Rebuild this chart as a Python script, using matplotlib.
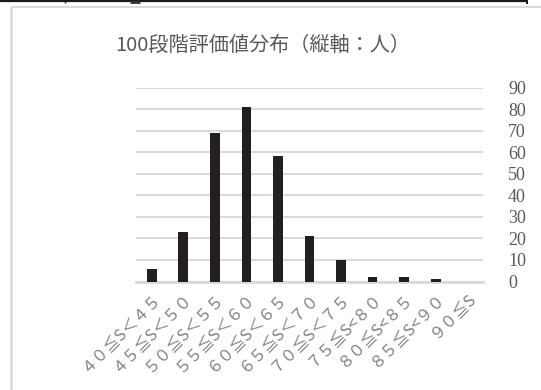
import matplotlib.pyplot as plt
from matplotlib.lines import Line2D
import numpy as np

# 評価値の区間と人数
ranges = ['４０≦S＜４５', '４５≦S＜５０', '５０≦S＜５５', '５５≦S＜６０',
          '６０≦S＜６５', '６５≦S＜７０', '７０≦S＜７５', '７５≦S<８０',
          '８０≦S<８５', '８５≦S<９０', '９０≦S']
counts = [6, 23, 69, 81, 58, 21, 10, 2, 2, 1, 0]
yticks = list(range(0, 100, 10))

W, H = 541, 390
fig = plt.figure(figsize=(W / 100, H / 100), dpi=100)
fig.patch.set_facecolor('white')

# outer frame pieces
def fline(xs, ys, color, lw):
    fig.add_artist(Line2D([x / W for x in xs], [1 - y / H for y in ys],
                          color=color, lw=lw, solid_capstyle='butt'))

fline([0, 527], [0.8, 0.8], '#1a1a1a', 1.6)
fline([527, 527], [0, 3.5], '#1a1a1a', 1.4)
fline([65, 65], [0, 2.5], '#1a1a1a', 1.0)
fline([130, 140], [1.5, 1.5], '#333333', 2.0)
fline([11, 541], [6.8, 6.8], '#d9d9d9', 1.5)
fline([11, 11], [6.8, 390], '#d9d9d9', 1.8)

ax = fig.add_axes([136 / W, 1 - 281.5 / H, (483 - 136) / W, (281.5 - 87.5) / H])
x = np.arange(len(ranges))
ax.bar(x, counts, width=0.31, color='#231f20', zorder=3)

ax.set_ylim(0, 90)
ax.set_xlim(-0.5, len(ranges) - 0.5)
ax.set_yticks(yticks)
ax.yaxis.tick_right()
ax.set_yticklabels([str(v) for v in yticks], family='Liberation Serif',
                   fontsize=13, color='#595959')
ax.tick_params(axis='y', length=0, pad=18)
ax.grid(axis='y', color='#d9d9d9', lw=1.4, zorder=0)
ax.set_axisbelow(True)
for s in ['top', 'right', 'left']:
    ax.spines[s].set_visible(False)
ax.spines['bottom'].set_color('#d9d9d9')
ax.spines['bottom'].set_linewidth(2)

ax.set_xticks(x)
ax.set_xticklabels(ranges, rotation=45, ha='right', rotation_mode='anchor',
                   family=['Noto Sans CJK JP', 'DejaVu Sans'], fontsize=11.5,
                   color='#808080')
ax.tick_params(axis='x', length=0, pad=6)

fig.text(263 / W, 1 - 45 / H, '100段階評価値分布（縦軸：人）',
         family=['Noto Sans CJK JP', 'DejaVu Sans'], fontsize=14.5,
         color='#595959', ha='center', va='center')

fig.savefig('out.png', dpi=100)
